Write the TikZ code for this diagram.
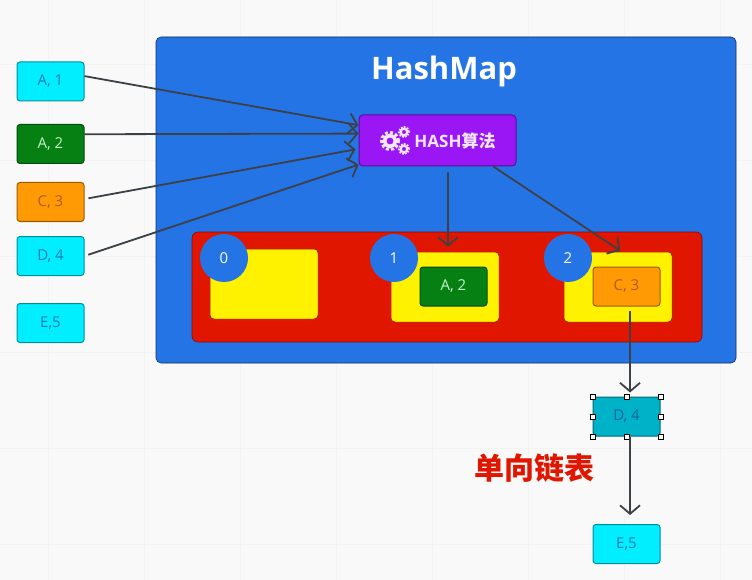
\documentclass[tikz,border=0pt]{standalone}
\usepackage{fontspec}
\setmainfont{Open Sans}
\newfontfamily\cjk{Noto Sans CJK SC}
\usetikzlibrary{arrows.meta,positioning}
\definecolor{pagebg}{HTML}{F9F9F9}
\definecolor{gridline}{HTML}{F3F3F3}
\definecolor{mapblue}{HTML}{2574E6}
\definecolor{keycyan}{HTML}{00EEFF}
\definecolor{keygreen}{HTML}{067F13}
\definecolor{keyorange}{HTML}{FF9A05}
\definecolor{chainteal}{HTML}{00B2C8}
\definecolor{bucketred}{HTML}{E01600}
\definecolor{slotyellow}{HTML}{FFF200}
\definecolor{hashpurple}{HTML}{9B16F5}
\definecolor{linkgrey}{HTML}{3C4147}
\definecolor{cyantext}{HTML}{0A7BB0}
\definecolor{greentext}{HTML}{C4F5C8}
\definecolor{orangetext}{HTML}{AE5C18}
\definecolor{tealtext}{HTML}{0A62A0}
\tikzset{
    keybox/.style={
                draw=#1!60!black,
                fill=#1,
                line width=1pt,
                rounded corners=3pt,
                minimum width=67pt,
                minimum height=39pt,
                inner sep=0pt,
                font=\fontsize{15}{18}\selectfont
            },
        keycyan/.style={keybox=keycyan,text=cyantext},
        keygreen/.style={keybox=keygreen,text=greentext},
        keyorange/.style={keybox=keyorange,text=orangetext},
        slotbox/.style={
                draw=bucketred!70!black,
                fill=slotyellow,
                line width=0.5pt,
                rounded corners=4pt,
                minimum width=108pt,
                minimum height=70pt
            },
        slotnum/.style={
                circle,
                fill=mapblue,
                minimum size=48pt,
                inner sep=0pt,
                text=white,
                font=\fontsize{15}{18}\selectfont
            },
        handle/.style={
                draw=black,
                fill=white,
                line width=0.5pt,
                minimum size=5pt,
                inner sep=0pt
            },
        gearteeth/.style={draw=white!90!hashpurple,dash pattern=on 3pt off 2.2pt},
        gearring/.style={draw=white!90!hashpurple},
        link/.style={
                draw=linkgrey,
                line width=1.8pt,
                -{Straight Barb[length=8.5pt,width=20pt,line width=1.8pt]}
            },
}
\begin{document}
\begin{tikzpicture}[x=1pt,y=-1pt]
  \useasboundingbox (0,0) rectangle (752,580);
  % Page
  \fill[pagebg] (0,0) rectangle (752,580);
  \foreach \gridx in {48,144,...,720}{\draw[gridline] (\gridx,0) -- (\gridx,580);}
  \foreach \gridy in {64,160,...,580}{\draw[gridline] (0,\gridy) -- (752,\gridy);}
  % HashMap and buckets
  \node[draw=black!60!mapblue,fill=mapblue,rounded corners=5pt,line width=0.6pt,minimum width=580pt,minimum height=326pt] (map) at (446,200) {};
  \node[text=white,font=\fontsize{31}{36}\selectfont\bfseries] (maptitle) at (444,71.5) {HashMap};
  \node[draw=bucketred!60!black,fill=bucketred,rounded corners=6pt,line width=0.6pt,minimum width=510pt,minimum height=110pt] (bucket) at (447,287) {};
  \node[slotbox] (slot0) at (264,284) {};
  \node[slotbox] (slot1) at (445,287) {};
  \node[slotbox] (slot2) at (618,287) {};
  \node[slotnum] (num0) at (224,258) {0};
  \node[slotnum] (num1) at (394,258) {1};
  \node[slotnum] (num2) at (568,258) {2};
  % Hash
  \node[draw=hashpurple!60!black,fill=hashpurple,rounded corners=4pt,line width=1pt,minimum width=157pt,minimum height=51pt] (hash) at (437.5,140.5) {};
  \node[text=white!90!hashpurple,inner sep=0pt,font=\fontsize{17}{20}\selectfont\bfseries] (hashlabel) at (455,140.5) {HASH{\cjk\bfseries 算法}};
  % Gears
  \foreach \gearx/\geary/\gearsize in {390/141/1,404/132/0.6,404/149/0.6}{
    \draw[gearteeth,line width=3pt*\gearsize,dash pattern=on 3pt*\gearsize off 2.1pt*\gearsize] (\gearx,\geary) circle[radius=8.5pt*\gearsize];
    \draw[gearring,line width=3.6pt*\gearsize] (\gearx,\geary) circle[radius=5.5pt*\gearsize];
  }
  % Keys
  \node[keycyan] (keyA1) at (50.5,81.5) {A, 1};
  \node[keygreen,below=22.5pt of keyA1] (keyA2) {A, 2};
  \node[keyorange,below=18pt of keyA2] (keyC3) {C, 3};
  \node[keycyan,below=14pt of keyC3] (keyD4) {D, 4};
  \node[keycyan,below=27pt of keyD4] (keyE5) {E,5};
  % Chain
  \node[keygreen] (slotA2) at (453.5,286.5) {A, 2};
  \node[keyorange] (slotC3) at (626.5,286.5) {C, 3};
  \node[keybox=chainteal,text=tealtext] (chainD4) at (626.5,416.5) {D, 4};
  \node[keycyan] (chainE5) at (626.5,544) {E,5};
  \foreach \side in {north west,north,north east,west,east,south west,south,south east}{
    \node[handle] (handle \side) at (chainD4.\side) {};
  }
  \node[text=bucketred,font=\cjk\bfseries\fontsize{30}{34}\selectfont] (chainlabel) at (534.5,468) {单向链表};
  % Links
  \draw[link] (keyA1.9) -- (hash.169);
  \draw[link] (keyA2.16) -- (hash.175);
  \draw[link,shorten <=4pt,shorten >=3pt] (keyC3.5) -- (hash.186);
  \draw[link,shorten <=4pt] (keyD4.east) -- (hash.197);
  \draw[link,shorten <=6pt,shorten >=5pt] (hash.292) -- (slot1.85);
  \draw[link,shorten >=2pt] (hash.335) -- (slot2.84);
  \draw[link,shorten <=4pt,shorten >=4pt] (slotC3.280) -- (chainD4.80);
  \draw[link,shorten >=9pt] (chainD4.280) -- (chainE5.80);
\end{tikzpicture}
\end{document}
